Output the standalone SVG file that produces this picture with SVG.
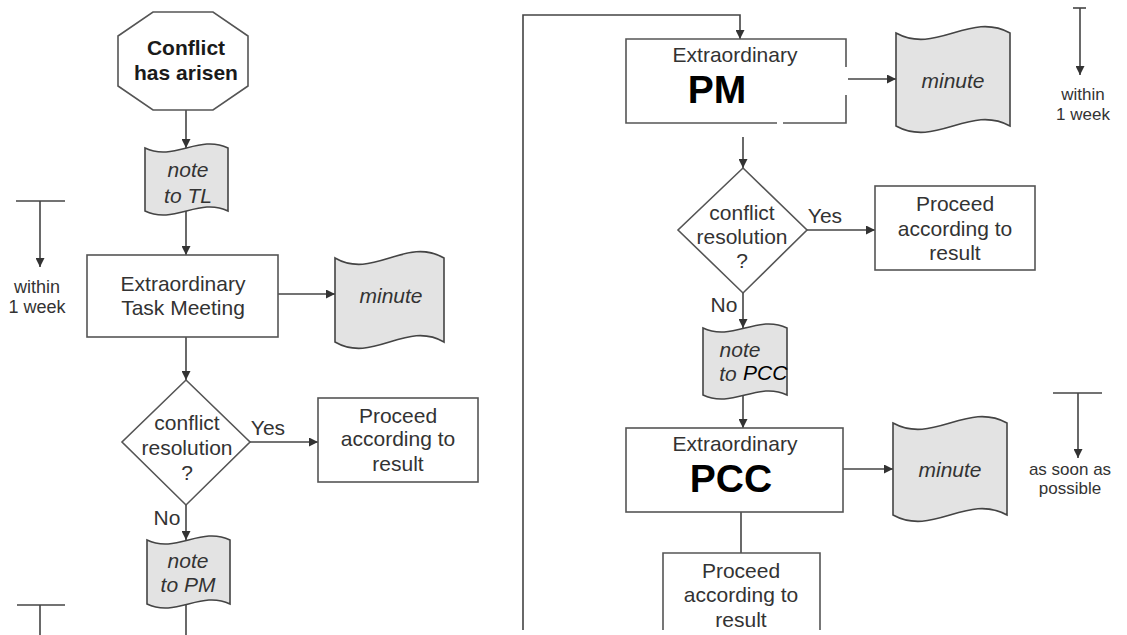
<svg xmlns="http://www.w3.org/2000/svg" width="1127" height="635" viewBox="0 0 1127 635">
  <style>
    .box { fill: #ffffff; stroke: #555555; stroke-width: 1.6; }
    .doc { fill: #e3e3e3; stroke: #444444; stroke-width: 1.6; }
    .line { fill: none; stroke: #444444; stroke-width: 1.6; }
    .t { font-family: "Liberation Sans", Arial, sans-serif; font-size: 21px; fill: #333333; text-anchor: middle; }
    .it { font-style: italic; }
    .b { font-weight: bold; fill: #1a1a1a; }
    .big { font-weight: bold; font-size: 39px; fill: #000000; }
    .sm { font-size: 17px; }
    .wk { font-size: 18px; }
  </style>
  <defs>
    <marker id="arrow" viewBox="0 0 10 10" refX="10" refY="5" markerWidth="9" markerHeight="9" markerUnits="userSpaceOnUse" orient="auto">
      <path d="M0,0 L10,5 L0,10 Z" fill="#333333"/>
    </marker>
  </defs>

  <rect width="1127" height="635" fill="#ffffff"/>

  <!-- connectors -->
  <g id="connectors">
    <line class="line" x1="186" y1="110" x2="186" y2="148" marker-end="url(#arrow)"/>
    <line class="line" x1="186" y1="211" x2="186" y2="255" marker-end="url(#arrow)"/>
    <line class="line" x1="278" y1="294" x2="335" y2="294" marker-end="url(#arrow)"/>
    <line class="line" x1="186" y1="337" x2="186" y2="380" marker-end="url(#arrow)"/>
    <line class="line" x1="250" y1="442" x2="318" y2="442" marker-end="url(#arrow)"/>
    <line class="line" x1="186" y1="505" x2="186" y2="540" marker-end="url(#arrow)"/>
    <line class="line" x1="186" y1="604" x2="186" y2="635"/>
    <path class="line" d="M523,630 V15 H740 V39" marker-end="url(#arrow)"/>
    <line class="line" x1="848" y1="79" x2="896" y2="79" marker-end="url(#arrow)"/>
    <line class="line" x1="743" y1="137" x2="743" y2="168" marker-end="url(#arrow)"/>
    <line class="line" x1="807" y1="230" x2="875" y2="230" marker-end="url(#arrow)"/>
    <line class="line" x1="743" y1="293" x2="743" y2="328" marker-end="url(#arrow)"/>
    <line class="line" x1="743" y1="395" x2="743" y2="428" marker-end="url(#arrow)"/>
    <line class="line" x1="843" y1="469" x2="893" y2="469" marker-end="url(#arrow)"/>
    <line class="line" x1="741" y1="512" x2="741" y2="553"/>
  </g>

  <!-- time markers -->
  <g id="time-left-top">
    <line class="line" x1="16" y1="201" x2="65" y2="201"/>
    <line class="line" x1="40" y1="201" x2="40" y2="267" marker-end="url(#arrow)"/>
    <text class="t wk" x="37" y="293">within</text>
    <text class="t wk" x="37" y="313">1 week</text>
  </g>
  <g id="time-left-bottom">
    <line class="line" x1="17" y1="605" x2="65" y2="605"/>
    <line class="line" x1="40" y1="605" x2="40" y2="635"/>
  </g>
  <g id="time-right-top">
    <line class="line" x1="1073" y1="8" x2="1086" y2="8"/>
    <line class="line" x1="1080" y1="8" x2="1080" y2="75" marker-end="url(#arrow)"/>
    <text class="t sm" x="1083" y="100">within</text>
    <text class="t sm" x="1083" y="120">1 week</text>
  </g>
  <g id="time-right-bottom">
    <line class="line" x1="1053" y1="393" x2="1102" y2="393"/>
    <line class="line" x1="1078" y1="393" x2="1078" y2="458" marker-end="url(#arrow)"/>
    <text class="t sm" x="1070" y="475">as soon as</text>
    <text class="t sm" x="1070" y="494">possible</text>
  </g>

  <!-- left column -->
  <g id="start">
    <polygon class="box" points="153,12 213,12 248,36 248,86 213,110 153,110 118,86 118,36"/>
    <text class="t b" x="186" y="55" font-size="20">Conflict</text>
    <text class="t b" x="186" y="80" font-size="20">has arisen</text>
  </g>
  <g id="note-tl">
    <path class="doc" d="M145,148 C174,162 199,134 228,148 L228,211 C199,197 174,225 145,211 Z"/>
    <text class="t it" x="188" y="177">note</text>
    <text class="t it" x="188" y="203">to TL</text>
  </g>
  <g id="task-meeting">
    <rect class="box" x="87" y="255" width="191" height="82"/>
    <text class="t" x="183" y="291" font-size="22">Extraordinary</text>
    <text class="t" x="183" y="315" font-size="22">Task Meeting</text>
  </g>
  <g id="minute-tm">
    <path class="doc" d="M335,258 C373,280 406,236 444,258 L444,342 C406,320 373,364 335,342 Z"/>
    <text class="t it" x="391" y="303" font-size="22">minute</text>
  </g>
  <g id="decision-tm">
    <polygon class="box" points="186,380 250,442 186,505 122,442"/>
    <text class="t" x="187" y="430">conflict</text>
    <text class="t" x="187" y="455">resolution</text>
    <text class="t" x="187" y="480">?</text>
    <text class="t" x="268" y="435">Yes</text>
    <text class="t" x="167" y="525">No</text>
  </g>
  <g id="proceed-tm">
    <rect class="box" x="318" y="398" width="160" height="84"/>
    <text class="t" x="398" y="423">Proceed</text>
    <text class="t" x="398" y="446">according to</text>
    <text class="t" x="398" y="471">result</text>
  </g>
  <g id="note-pm">
    <path class="doc" d="M147,540 C176,554 201,526 230,540 L230,604 C201,590 176,618 147,604 Z"/>
    <text class="t it" x="188" y="568">note</text>
    <text class="t it" x="188" y="592">to PM</text>
  </g>

  <!-- right column -->
  <g id="pm-meeting">
    <rect x="626" y="39" width="220" height="84" fill="#ffffff"/>
    <path class="line" d="M846,67 V39 H626 V123 H777 M783,123 H846 V95" style="stroke:#555555"/>
    <text class="t" x="735" y="62" font-size="22">Extraordinary</text>
    <text class="t big" x="717" y="103">PM</text>
  </g>
  <g id="minute-pm">
    <path class="doc" d="M896,33 C936,55 970,11 1010,33 L1010,126 C970,104 936,148 896,126 Z"/>
    <text class="t it" x="953" y="88" font-size="22">minute</text>
  </g>
  <g id="decision-pm">
    <polygon class="box" points="743,168 807,230 743,293 678,230"/>
    <text class="t" x="742" y="220">conflict</text>
    <text class="t" x="742" y="244">resolution</text>
    <text class="t" x="742" y="268">?</text>
    <text class="t" x="825" y="223">Yes</text>
    <text class="t" x="724" y="312">No</text>
  </g>
  <g id="proceed-pm">
    <rect class="box" x="875" y="186" width="160" height="84"/>
    <text class="t" x="955" y="211">Proceed</text>
    <text class="t" x="955" y="236">according to</text>
    <text class="t" x="955" y="260">result</text>
  </g>
  <g id="note-pcc">
    <path class="doc" d="M703,328 C732,342 758,314 787,328 L787,395 C758,381 732,409 703,395 Z"/>
    <text class="t it" x="740" y="357">note</text>
    <text class="t it" x="728" y="381">to</text>
    <text class="t it" x="743" y="380" font-size="20" style="text-anchor:start; fill:#000000">PCC</text>
  </g>
  <g id="pcc-meeting">
    <rect class="box" x="626" y="428" width="217" height="84"/>
    <text class="t" x="735" y="451" font-size="22">Extraordinary</text>
    <text class="t big" x="731" y="492">PCC</text>
  </g>
  <g id="minute-pcc">
    <path class="doc" d="M893,423 C933,445 967,401 1007,423 L1007,515 C967,493 933,537 893,515 Z"/>
    <text class="t it" x="950" y="477" font-size="22">minute</text>
  </g>
  <g id="proceed-pcc">
    <path class="box" d="M663,630 V553 H820 V630"/>
    <text class="t" x="741" y="578">Proceed</text>
    <text class="t" x="741" y="602">according to</text>
    <text class="t" x="741" y="627">result</text>
  </g>
</svg>
